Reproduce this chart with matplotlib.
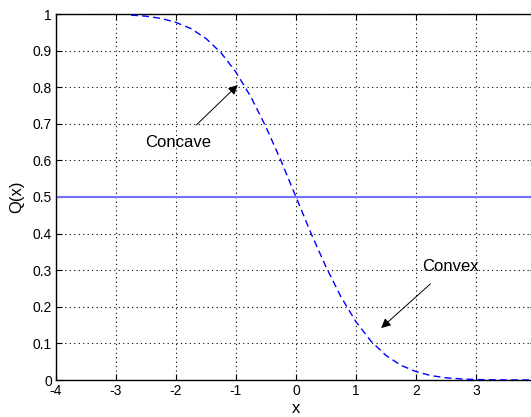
import matplotlib.pyplot as plt

# values
x = [-2.75, -2.5, -2.25, -2.0, -1.75, -1.5, -1.25, -1.0, -0.75, -0.5, -0.25, 0.0,
     0.25, 0.5, 0.75, 1.0, 1.25, 1.5, 1.75, 2.0, 2.25, 2.5, 2.75, 3.0, 3.25, 3.5, 3.75, 4.0]
q = [0.997, 0.994, 0.988, 0.977, 0.960, 0.933, 0.894, 0.841, 0.773, 0.691, 0.599, 0.500,
     0.401, 0.309, 0.227, 0.159, 0.106, 0.067, 0.040, 0.023, 0.012, 0.006, 0.003, 0.0013,
     0.0006, 0.0002, 0.0001, 0.00003]
half = 0.5
xticks = [-4, -3, -2, -1, 0, 1, 2, 3, 4]
xtick_labels = ["-4", "-3", "-2", "-1", "0", "1", "2", "3", ""]
yticks = [0, 0.1, 0.2, 0.3, 0.4, 0.5, 0.6, 0.7, 0.8, 0.9, 1]
ytick_labels = ["0", "0.1", "0.2", "0.3", "0.4", "0.5", "0.6", "0.7", "0.8", "0.9", "1"]

plt.rcParams['font.family'] = ['Liberation Sans', 'DejaVu Sans']
plt.rcParams['axes.unicode_minus'] = False

fig = plt.figure(figsize=(5.31, 4.17), dpi=100)
ax = fig.add_axes([56 / 531, 1 - 380 / 417, 480 / 531, 366 / 417])

ax.axhline(half, color='#7272ff', lw=1.5, zorder=2)
ax.plot(x, q, color='#0000ff', lw=1.0, ls=(0, (5, 3)), zorder=3)

ax.set_xlim(-4, 4)
ax.set_ylim(0, 1)
ax.set_xticks(xticks)
ax.set_xticklabels(xtick_labels)
ax.set_yticks(yticks)
ax.set_yticklabels(ytick_labels)
ax.grid(True, color='black', ls=(0, (1, 3)), lw=0.8)
ax.tick_params(direction='in', top=True, right=True, labelsize=10, length=4, pad=3)
for s in ax.spines.values():
    s.set_linewidth(1.0)

ax.set_xlabel('x', fontsize=12, labelpad=2)
ax.set_ylabel('Q(x)', fontsize=12, labelpad=6)

ax.annotate('Concave', xy=(-0.97, 0.806), xytext=(-1.97, 0.648), fontsize=12,
            ha='center', va='center',
            arrowprops=dict(arrowstyle='-|>', color='black', lw=0.7, mutation_scale=14,
                            shrinkA=8, shrinkB=0))
ax.annotate('Convex', xy=(1.42, 0.142), xytext=(2.57, 0.311), fontsize=12,
            ha='center', va='center',
            arrowprops=dict(arrowstyle='-|>', color='black', lw=0.7, mutation_scale=14,
                            shrinkA=8, shrinkB=0))

fig.savefig('out.png', dpi=100)
